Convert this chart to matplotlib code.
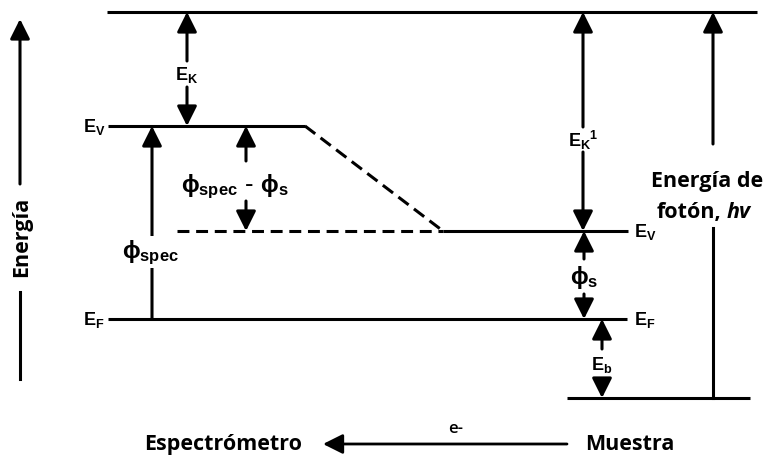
import numpy as np
import matplotlib.pyplot as plt

plt.rcParams['mathtext.fontset'] = 'custom'
plt.rcParams['mathtext.rm'] = 'Liberation Sans:bold'
plt.rcParams['mathtext.it'] = 'Liberation Sans:bold'
plt.rcParams['mathtext.bf'] = 'Liberation Sans:bold'

# niveles de energía (eje vertical invertido: arriba = más energía)
E_cin = 13        # nivel del electrón emitido
E_V_spec = 127    # vacío del espectrómetro
E_V_mues = 232    # vacío de la muestra
E_F = 320         # nivel de Fermi común
E_core = 399      # nivel interno de la muestra

# extremos horizontales de cada nivel
x_cin = [107, 757]
x_V_spec = [108, 305]
x_V_mues = [443, 628]
x_F = [108, 627]
x_core = [567, 750]
x_guion = [177, 443]

LW = 2.2
fig = plt.figure(figsize=(7.69, 4.56), dpi=100)
ax = fig.add_axes([0, 0, 1, 1])
ax.set_xlim(0, 769)
ax.set_ylim(456, 0)
ax.axis('off')


def nivel(xs, y, **kw):
    ax.plot(xs, [y, y], color='k', lw=LW, solid_capstyle='butt', **kw)


def flecha(p0, p1, lw=LW):
    ax.annotate('', xy=p1, xytext=p0,
                arrowprops=dict(arrowstyle='-|>,head_length=0.4,head_width=0.2',
                                lw=lw, color='k', mutation_scale=30,
                                shrinkA=0, shrinkB=0))


def vflecha(x, y0, y1):
    flecha((x, y0), (x, y1))


def etiqueta(x, y, s, size=13, fondo=False):
    kw = {}
    if fondo:
        kw['bbox'] = dict(facecolor='white', edgecolor='none', pad=1)
    ax.text(x, y, s, ha='center', va='center', fontsize=size, **kw)


# niveles
nivel(x_cin, E_cin)
nivel(x_V_spec, E_V_spec)
nivel(x_V_mues, E_V_mues)
nivel(x_F, E_F)
nivel(x_core, E_core)
ax.plot(x_guion, [E_V_mues, E_V_mues], color='k', lw=LW, dashes=(3.9, 2.2))
ax.plot([x_V_spec[1], x_V_mues[0]], [E_V_spec, E_V_mues], color='k', lw=LW,
        dashes=(4.2, 2.2))

# E_K
vflecha(187, 62, E_cin)
vflecha(187, 88, E_V_spec)
etiqueta(187, 75, r'$E_K$')

# phi_spec
vflecha(152, E_F, E_V_spec)
etiqueta(150, 253, r'$\phi_{spec}$', size=17, fondo=True)

# phi_spec - phi_s
vflecha(246, 162, E_V_spec)
vflecha(246, 202, E_V_mues)
etiqueta(235, 187, r'$\phi_{spec}$ - $\phi_s$', size=17)

# E_K^1
vflecha(583, 128, E_cin)
vflecha(583, 153, E_V_mues)
etiqueta(583, 140, r'$E_K{}^1$')

# phi_s
vflecha(584, 260, E_V_mues)
vflecha(584, 295, E_F)
etiqueta(584, 278, r'$\phi_s$', size=17)

# E_b
vflecha(602, 350, E_F)
vflecha(602, 382, E_core)
etiqueta(602, 365, r'$E_b$')

# energía del fotón
ax.plot([713, 713], [E_core, 229], color='k', lw=LW)
vflecha(713, 145, E_cin)
ax.text(707, 182, 'Energía de', ha='center', va='center', fontsize=15.5,
        family='Open Sans', fontweight='bold')
ax.text(721, 213, 'fotón,', ha='right', va='center', fontsize=15.5,
        family='Open Sans', fontweight='bold')
ax.text(727, 213, 'hv', ha='left', va='center', fontsize=15.5,
        family='Open Sans', fontweight='bold', style='italic')

# rótulos de los niveles
for y, s in [(E_V_spec, r'$E_V$'), (E_F, r'$E_F$')]:
    ax.text(94, y, s, ha='center', va='center', fontsize=13)
for y, s in [(E_V_mues, r'$E_V$'), (E_F, r'$E_F$')]:
    ax.text(645, y, s, ha='center', va='center', fontsize=13)

# eje de energía
ax.plot([20, 20], [380, 293], color='k', lw=LW)
vflecha(20, 185, 20)
ax.text(22, 237, 'Energía', rotation=90, ha='center', va='center',
        fontsize=15.5, family='Open Sans', fontweight='bold')

# espectrómetro <- muestra
flecha((567, 445), (323, 445), lw=2.0)
ax.text(223, 445, 'Espectrómetro', ha='center', va='center', fontsize=15.5,
        family='Open Sans', fontweight='bold')
ax.text(630, 445, 'Muestra', ha='center', va='center', fontsize=15.5,
        family='Open Sans', fontweight='bold')
ax.text(456, 429, 'e-', ha='center', va='center', fontsize=12,
        family='Open Sans', fontweight='semibold')

fig.savefig('out.png', dpi=100, facecolor='white')
